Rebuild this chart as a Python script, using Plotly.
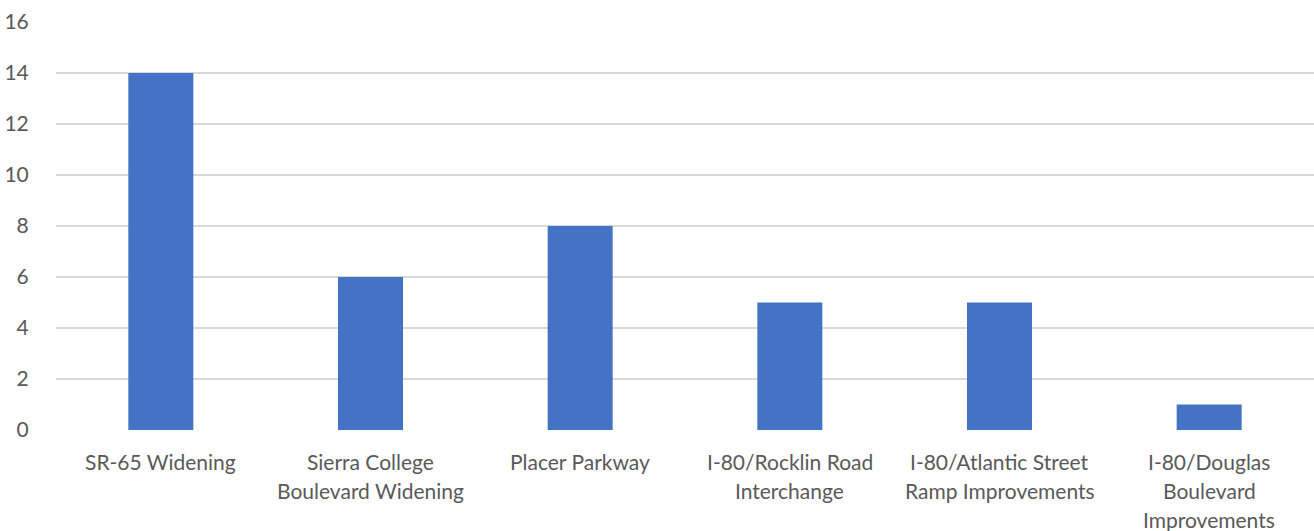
import plotly.graph_objects as go

categories = [
    "SR-65 Widening",
    "Sierra College<br>Boulevard Widening",
    "Placer Parkway",
    "I-80/Rocklin Road<br>Interchange",
    "I-80/Atlantic Street<br>Ramp Improvements",
    "I-80/Douglas<br>Boulevard<br>Improvements",
]
values = [14, 6, 8, 5, 5, 1]
y_ticks = [0, 2, 4, 6, 8, 10, 12, 14, 16]

FONT = "Lato, 'Open Sans', sans-serif"
TXT = "#595959"

fig = go.Figure()
fig.add_trace(go.Bar(
    x=list(range(len(categories))),
    y=values,
    marker=dict(color="#4472C4", line=dict(width=0)),
    width=0.31,
    hoverinfo="skip",
))

annotations = []
for i, lab in enumerate(categories):
    for j, line in enumerate(lab.split("<br>")):
        annotations.append(dict(
            x=i, xref="x", y=0, yref="paper",
            text=line, showarrow=False,
            xanchor="center", yanchor="middle",
            yshift=-31 - 29.3 * j,
            font=dict(family=FONT, size=21, color=TXT),
        ))

fig.update_layout(
    width=1314, height=531,
    margin=dict(l=56, r=0, t=22, b=101),
    paper_bgcolor="white", plot_bgcolor="white",
    showlegend=False,
    annotations=annotations,
    xaxis=dict(
        range=[-0.5, len(categories) - 0.5],
        showticklabels=False, showgrid=False, zeroline=False,
        showline=False, fixedrange=True,
    ),
    yaxis=dict(
        range=[0, 16], tickvals=y_ticks,
        showgrid=True, gridcolor="#D9D9D9", gridwidth=1.5,
        zeroline=False, showline=False,
        ticks="outside", ticklen=22, tickcolor="rgba(0,0,0,0)",
        tickfont=dict(family=FONT, size=21, color=TXT),
        fixedrange=True,
    ),
)

fig.write_html("out.html")
